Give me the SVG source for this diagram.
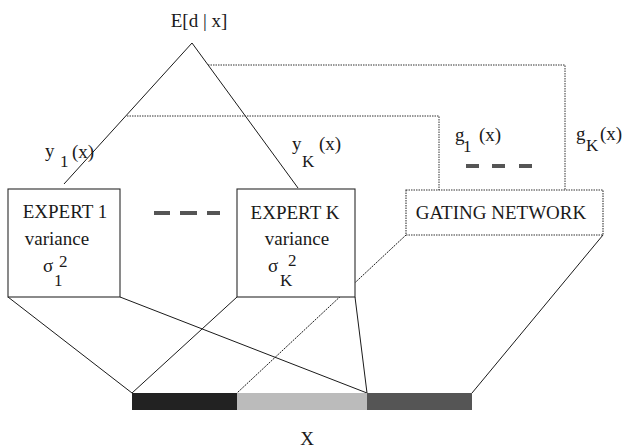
<svg xmlns="http://www.w3.org/2000/svg" width="624" height="448" viewBox="0 0 624 448">
<style>
text{font-family:"Liberation Serif","Times New Roman",serif;fill:#1a1a1a}
.t{font-size:19px}
.s{font-size:17px}
.ln{stroke:#1a1a1a;stroke-width:1;fill:none}
.dot{stroke:#333;stroke-width:1;fill:none;stroke-dasharray:1.5 1}
.box{fill:#fff;stroke:#2a2a2a;stroke-width:1.1}
.gbox{fill:#fff;stroke:#333;stroke-width:1.1;stroke-dasharray:1.5 1}
.dash{fill:#555}
</style>
<rect width="624" height="448" fill="#fff"/>
<g id="connectors">
<polyline class="ln" points="64,184 192,43 298,188"/>
<polyline class="dot" points="208,65 565,65 565,190"/>
<polyline class="dot" points="127,116 439,116 439,190"/>
<line class="ln" x1="8" y1="297" x2="132" y2="393"/>
<line class="ln" x1="120" y1="297" x2="367" y2="393"/>
<line class="ln" x1="237" y1="297" x2="132" y2="393"/>
<line class="ln" x1="355" y1="297" x2="367" y2="393"/>
<line class="ln" x1="406" y1="235" x2="237" y2="393" stroke-dasharray="2 1" stroke-width="0.8"/>
<line class="ln" x1="603" y1="235" x2="472" y2="393" stroke-width="0.8"/>
</g>
<g id="output">
<text class="t" x="199" y="27" text-anchor="middle">E[d | x]</text>
</g>
<g id="labels">
<text class="t" x="45" y="157">y</text><text class="s" x="60" y="167">1</text><text class="t" x="72" y="158">(x)</text>
<text class="t" x="292" y="150">y</text><text class="s" x="302" y="167">K</text><text class="t" x="319" y="150">(x)</text>
<text class="t" x="455" y="141">g</text><text class="s" x="463" y="152">1</text><text class="t" x="479" y="141">(x)</text>
<text class="t" x="576" y="140">g</text><text class="s" x="586" y="151">K</text><text class="t" x="600" y="140">(x)</text>
<rect class="dash" x="466" y="164" width="13" height="4"/>
<rect class="dash" x="492" y="164" width="13" height="4"/>
<rect class="dash" x="519" y="164" width="13" height="4"/>
<rect class="dash" x="154" y="211" width="16" height="4"/>
<rect class="dash" x="180" y="211" width="17" height="4"/>
<rect class="dash" x="207" y="211" width="13" height="4"/>
</g>
<g id="expert1">
<rect class="box" x="8" y="189" width="112" height="108"/>
<text class="t" x="65" y="218" text-anchor="middle">EXPERT 1</text>
<text class="t" x="57" y="245" text-anchor="middle">variance</text>
<text class="t" x="43" y="272">σ</text><text class="s" x="54" y="286">1</text><text class="s" x="59" y="267">2</text>
</g>
<g id="expertK">
<rect class="box" x="237" y="189" width="118" height="108"/>
<text class="t" x="295" y="219" text-anchor="middle">EXPERT K</text>
<text class="t" x="297" y="245" text-anchor="middle">variance</text>
<text class="t" x="268" y="272">σ</text><text class="s" x="280" y="286">K</text><text class="s" x="288" y="266">2</text>
</g>
<g id="gating">
<rect class="gbox" x="406" y="190" width="197" height="45"/>
<text class="t" x="501" y="219" text-anchor="middle">GATING NETWORK</text>
</g>
<g id="input">
<rect x="132" y="393" width="105" height="17" fill="#222"/>
<rect x="237" y="393" width="130" height="17" fill="#bbb"/>
<rect x="367" y="393" width="105" height="17" fill="#555"/>
<text class="t" x="307" y="445" text-anchor="middle" fill="#444">X</text>
</g>
</svg>
